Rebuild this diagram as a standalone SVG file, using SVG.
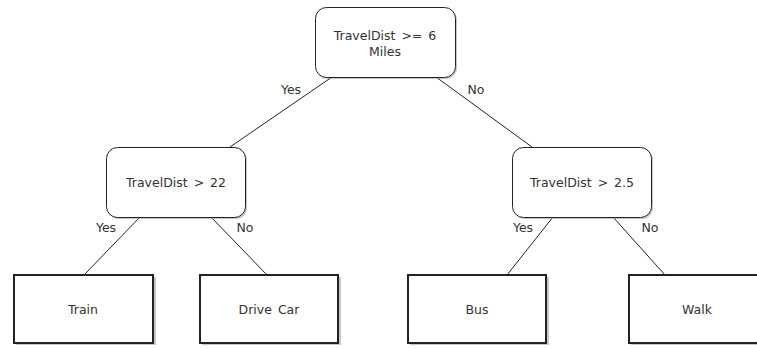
<svg xmlns="http://www.w3.org/2000/svg" width="757" height="349" viewBox="0 0 757 349">
  <style>
    .txt { font-family: "DejaVu Sans", Verdana, sans-serif; font-size: 12.5px; fill: #333; text-anchor: middle; word-spacing: 2px; }
    .lbl { font-family: "DejaVu Sans", Verdana, sans-serif; font-size: 12.5px; fill: #333; text-anchor: middle; }
    .dec { fill: #fff; stroke: #222; stroke-width: 1; }
    .leaf { fill: #fff; stroke: #222; stroke-width: 2; }
    .shadow { fill: #999; opacity: 0.55; }
    .edge { stroke: #222; stroke-width: 1; fill: none; }
  </style>

  <!-- connectors -->
  <g id="connectors">
    <line class="edge" x1="332" y1="77" x2="230" y2="147"/>
    <line class="edge" x1="436" y1="77" x2="532" y2="147"/>
    <line class="edge" x1="140" y1="217" x2="84" y2="275"/>
    <line class="edge" x1="211" y1="217" x2="267" y2="275"/>
    <line class="edge" x1="553" y1="217" x2="507" y2="275"/>
    <line class="edge" x1="613" y1="217" x2="665" y2="275"/>
    <text class="lbl" x="291" y="94">Yes</text>
    <text class="lbl" x="476" y="94">No</text>
    <text class="lbl" x="106" y="232">Yes</text>
    <text class="lbl" x="245" y="232">No</text>
    <text class="lbl" x="523" y="232">Yes</text>
    <text class="lbl" x="650" y="232">No</text>
  </g>

  <!-- decision nodes -->
  <g id="root">
    <rect class="shadow" x="317" y="9" width="140" height="70" rx="11"/>
    <rect class="dec" x="315.5" y="7.5" width="140" height="70" rx="11"/>
    <text class="txt" x="385" y="40">TravelDist &gt;= 6</text>
    <text class="txt" x="385" y="56">Miles</text>
  </g>
  <g id="dist22">
    <rect class="shadow" x="108" y="149" width="139" height="70" rx="11"/>
    <rect class="dec" x="106.5" y="147.5" width="139" height="70" rx="11"/>
    <text class="txt" x="176" y="187">TravelDist &gt; 22</text>
  </g>
  <g id="dist25">
    <rect class="shadow" x="514" y="149" width="139" height="70" rx="11"/>
    <rect class="dec" x="512.5" y="147.5" width="139" height="70" rx="11"/>
    <text class="txt" x="582" y="187">TravelDist &gt; 2.5</text>
  </g>

  <!-- leaf nodes -->
  <g id="train">
    <rect class="shadow" x="16" y="277" width="140" height="68"/>
    <rect class="leaf" x="14" y="275" width="139" height="68"/>
    <text class="txt" x="83" y="314">Train</text>
  </g>
  <g id="drivecar">
    <rect class="shadow" x="202" y="277" width="139" height="68"/>
    <rect class="leaf" x="200" y="275" width="138" height="68"/>
    <text class="txt" x="269" y="314">Drive Car</text>
  </g>
  <g id="bus">
    <rect class="shadow" x="410" y="277" width="139" height="68"/>
    <rect class="leaf" x="408" y="275" width="138" height="68"/>
    <text class="txt" x="477" y="314">Bus</text>
  </g>
  <g id="walk">
    <rect class="shadow" x="631" y="277" width="139" height="68"/>
    <rect class="leaf" x="629" y="275" width="138" height="68"/>
    <text class="txt" x="697" y="314">Walk</text>
  </g>
</svg>
